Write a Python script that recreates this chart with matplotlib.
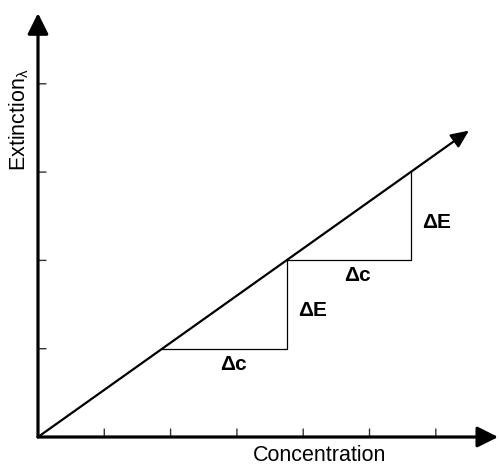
import matplotlib
matplotlib.use('Agg')
import matplotlib.pyplot as plt

plt.rcParams['font.family'] = ['Liberation Sans', 'DejaVu Sans']
plt.rcParams['mathtext.fontset'] = 'custom'
plt.rcParams['mathtext.rm'] = 'Liberation Sans'
plt.rcParams['mathtext.it'] = 'Liberation Sans'

## data
line_conc = [0, 6.5]
line_ext = [0, 3.47]
step_conc = [1.875, 3.75, 5.625]
step_ext = [1, 2, 3]
x_ticks = [1, 2, 3, 4, 5, 6]
y_ticks = [1, 2, 3, 4]
x_label = 'Concentration'
y_label = 'Extinction$_\\mathrm{\\lambda}$'
dc_label = '\u0394c'
de_label = '\u0394E'
##

fig = plt.figure(figsize=(4.99, 4.68), dpi=100)
ax = fig.add_axes([0, 0, 1, 1])
ax.set_xlim(-0.573, 6.953)
ax.set_ylim(-0.351, 4.949)
ax.axis('off')

# tick marks (inward)
for t in x_ticks:
    ax.annotate('', xy=(t, 0), xytext=(0, 8), textcoords='offset pixels',
                arrowprops=dict(arrowstyle='-', lw=1, color='#333333',
                                shrinkA=0, shrinkB=0))
for t in y_ticks:
    ax.annotate('', xy=(0, t), xytext=(8, 0), textcoords='offset pixels',
                arrowprops=dict(arrowstyle='-', lw=1, color='#333333',
                                shrinkA=0, shrinkB=0))

# axes with arrows
axis_arrow = dict(arrowstyle='-|>,head_length=0.9,head_width=0.45', lw=2.3,
                  color='black', shrinkA=0, shrinkB=0, mutation_scale=14)
ax.annotate('', xy=(6.94, 0), xytext=(0, 0), arrowprops=axis_arrow)
ax.annotate('', xy=(0, 4.8), xytext=(0, 0), arrowprops=axis_arrow)

# main line
ax.annotate('', xy=(line_conc[1], line_ext[1]), xytext=(line_conc[0], line_ext[0]),
            arrowprops=dict(arrowstyle='-|>,head_length=0.9,head_width=0.4', lw=1.6,
                            color='black', shrinkA=0, shrinkB=0, mutation_scale=12))

# step triangles
for i in range(len(step_conc) - 1):
    x0, x1 = step_conc[i], step_conc[i + 1]
    y0, y1 = step_ext[i], step_ext[i + 1]
    ax.plot([x0, x1, x1], [y0, y0, y1], color='black', lw=0.9)
    ax.annotate(dc_label, xy=((x0 + x1) / 2, y0), xytext=(9, -6),
                textcoords='offset pixels', ha='center', va='top',
                fontsize=15, fontweight='bold')
    ax.annotate(de_label, xy=(x1, (y0 + y1) / 2), xytext=(11, -6),
                textcoords='offset pixels', ha='left', va='center',
                fontsize=15, fontweight='bold')

ax.text(4.25, -0.215, x_label, ha='center', va='center', fontsize=15.5)
ax.text(-0.29, 3.59, y_label, ha='center', va='center', fontsize=15.5, rotation=90)

fig.savefig('out.png', dpi=100)
